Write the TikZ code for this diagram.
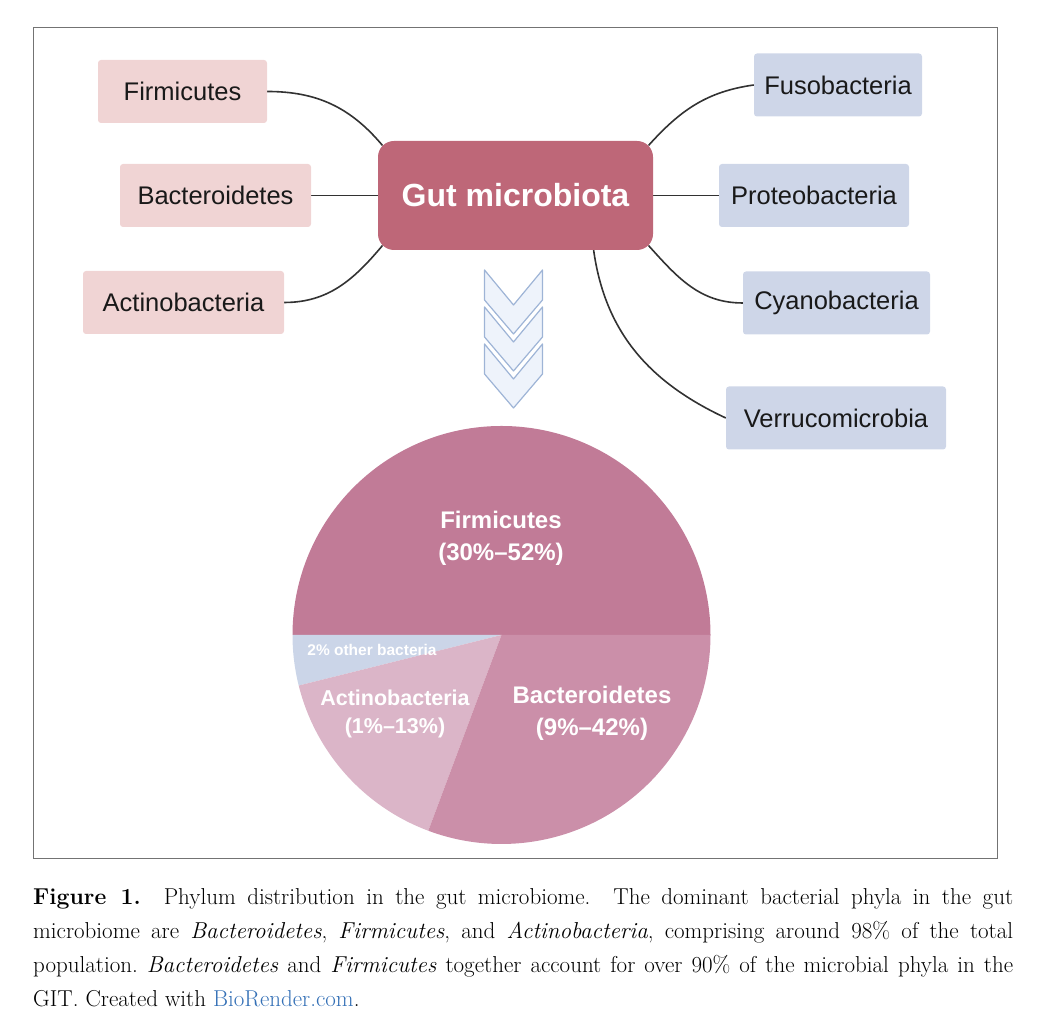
\documentclass[tikz,border=0pt]{standalone}
\usepackage{fontspec}
\newfontfamily\phylafont[Ligatures=TeX]{Liberation Sans}
\usepackage{tikz}
\usetikzlibrary{backgrounds}

\definecolor{gutred}{RGB}{190,103,120}
\definecolor{pinkbox}{RGB}{240,212,212}
\definecolor{bluebox}{RGB}{206,214,232}
\definecolor{linkgray}{RGB}{50,50,50}
\definecolor{chevfill}{RGB}{232,239,250}
\definecolor{chevline}{RGB}{158,180,214}
\definecolor{firmpie}{RGB}{193,123,151}
\definecolor{bactpie}{RGB}{203,143,169}
\definecolor{actipie}{RGB}{219,181,200}
\definecolor{otherpie}{RGB}{203,213,232}
\definecolor{biorender}{RGB}{52,112,182}

\begin{document}
\begin{tikzpicture}[x=1pt, y=1pt,
    phylum/.style={rounded corners=3pt, minimum height=63pt, text=black!90,
        font=\phylafont\fontsize{25.5}{30}\selectfont},
    leftphylum/.style={phylum, fill=pinkbox},
    rightphylum/.style={phylum, fill=bluebox},
    link/.style={draw=linkgray, line width=1.6pt},
    chevron/.style={draw=chevline, fill=chevfill, fill opacity=0.75, line width=1.2pt, line join=round},
    slice/.style={text=white, align=center, font=\phylafont\bfseries\fontsize{24}{32}\selectfont}]

    \useasboundingbox (0,0) rectangle (1047,1032);
    \draw[black!55, line width=0.9pt] (33,174) rectangle (997,1005);

    % Hub and the phyla round it
    \node[rounded corners=16pt, fill=gutred, minimum width=275pt, minimum height=109pt, text=white,
        font=\phylafont\bfseries\fontsize{32}{36}\selectfont] (gut) at (515.5,836.5) {Gut microbiota};

    \node[leftphylum, minimum width=169pt] (firm) at (182.5,940.5) {Firmicutes};
    \node[leftphylum, minimum width=191pt] (bact) at (215.5,836.5) {Bacteroidetes};
    \node[leftphylum, minimum width=201pt] (acti) at (183.5,729.5) {Actinobacteria};

    \node[rightphylum, minimum width=168pt] (fuso) at (838,947) {Fusobacteria};
    \node[rightphylum, minimum width=190pt] (prot) at (814,836.5) {Proteobacteria};
    \node[rightphylum, minimum width=187pt] (cyan) at (836.5,729) {Cyanobacteria};
    \node[rightphylum, minimum width=220pt] (verr) at (836,614) {Verrucomicrobia};

    \begin{scope}[on background layer]
        \draw[link] (firm.east) to[out=0, in=130] ([shift={(4.7,-4.7)}]gut.north west);
        \draw[link] (bact.east) -- (gut.west);
        \draw[link] (acti.east) to[out=0, in=-130] ([shift={(4.7,4.7)}]gut.south west);
        \draw[link] (fuso.west) to[out=188, in=48] ([shift={(-4.7,-4.7)}]gut.north east);
        \draw[link] (prot.west) -- (gut.east);
        \draw[link] (cyan.west) to[out=180, in=-48] ([shift={(-4.7,4.7)}]gut.south east);
        \draw[link] (verr.west) to[out=155, in=-82] (gut.-35);
    \end{scope}

    % Chevrons down to the pie
    \foreach \t in {762,725,688} {
        \draw[chevron] (484.5,\t) -- (513.5,\t-35) -- (542.5,\t) -- (542.5,\t-30)
            -- (513.5,\t-64) -- (484.5,\t-30) -- cycle;
    }

    % Pie of the phyla
    \coordinate (o) at (501.5,397);
    \foreach \a/\b/\c in {0/180/firmpie, 180/194/otherpie, 194/249.5/actipie, 249.5/360/bactpie} {
        \fill[\c] (o) -- ++(\a:209) arc[start angle=\a, end angle=\b, radius=209] -- cycle;
    }

    \node[slice] (firmlabel) at (501,494) {Firmicutes\\(30\%–52\%)};
    \node[slice] (bactlabel) at (592,319) {Bacteroidetes\\(9\%–42\%)};
    \node[slice, font=\phylafont\bfseries\fontsize{21.5}{28}\selectfont] (actilabel) at (395,318) {Actinobacteria\\(1\%–13\%)};
    \node[slice, font=\phylafont\bfseries\fontsize{15.5}{18}\selectfont] (otherlabel) at (372,382) {2\% other bacteria};

    \node[anchor=north west, text width=980pt, align=justify, inner sep=0pt,
        font=\fontsize{23}{34}\selectfont\frenchspacing] (caption) at (33,144)
        {\textbf{Figure 1.}\ \ Phylum distribution in the gut microbiome.\ \ The dominant bacterial phyla in the gut\linebreak
        microbiome are \textit{Bacteroidetes}, \textit{Firmicutes}, and \textit{Actinobacteria}, comprising around 98\% of the total\linebreak
        population. \textit{Bacteroidetes} and \textit{Firmicutes} together account for over 90\% of the microbial phyla in the\linebreak
        GIT. Created with \textcolor{biorender}{BioRender.com}.};
\end{tikzpicture}
\end{document}
